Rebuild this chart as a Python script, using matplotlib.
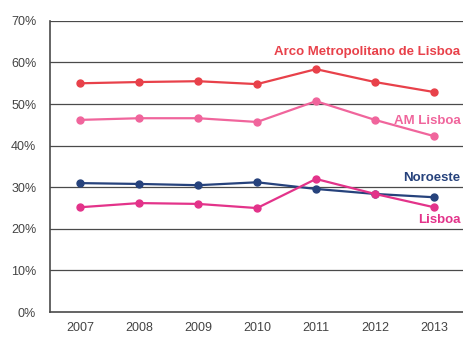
import matplotlib
matplotlib.use("Agg")
import matplotlib.pyplot as plt

years = [2007, 2008, 2009, 2010, 2011, 2012, 2013]
arco = [55.0, 55.3, 55.5, 54.8, 58.4, 55.3, 52.9]
am_lisboa = [46.2, 46.6, 46.6, 45.7, 50.7, 46.2, 42.3]
noroeste = [31.0, 30.8, 30.5, 31.2, 29.6, 28.4, 27.6]
lisboa = [25.2, 26.2, 26.0, 25.0, 32.0, 28.4, 25.2]
y_ticks = [0, 10, 20, 30, 40, 50, 60, 70]

plt.rcParams["font.family"] = ["Liberation Sans", "DejaVu Sans"]

series = [
    (arco, "#e8414a", "Arco Metropolitano de Lisboa", 61.0),
    (am_lisboa, "#f0659c", "AM Lisboa", 44.4),
    (noroeste, "#26427c", "Noroeste", 30.8),
    (lisboa, "#e3338a", "Lisboa", 20.6),
]

fig = plt.figure(figsize=(4.64, 3.37), dpi=100)
ax = fig.add_axes([0.108, 0.074, 0.892, 0.864])

for yv in y_ticks[1:]:
    ax.axhline(yv, color="#4a4a4a", lw=0.9, zorder=1)

for vals, col, label, ly in series:
    ax.plot(years, vals, color=col, lw=1.6, marker="o", ms=5, zorder=3)
    ax.text(2013.45, ly, label, color=col, fontsize=9.5, fontweight="bold",
            ha="right", va="bottom")

ax.set_xlim(2006.49, 2013.51)
ax.set_ylim(0, 70)
ax.set_xticks(years)
ax.set_xticklabels([str(y) for y in years])
ax.set_yticks(y_ticks)
ax.set_yticklabels([f"{v}%" for v in y_ticks])
ax.tick_params(length=0, labelsize=9, colors="#444444")
ax.tick_params(axis="y", pad=10)
ax.tick_params(axis="x", pad=7)
for s in ["top", "right"]:
    ax.spines[s].set_visible(False)
for s in ["left", "bottom"]:
    ax.spines[s].set_color("#4a4a4a")
    ax.spines[s].set_linewidth(1.2)

fig.savefig("out.png", dpi=100)
